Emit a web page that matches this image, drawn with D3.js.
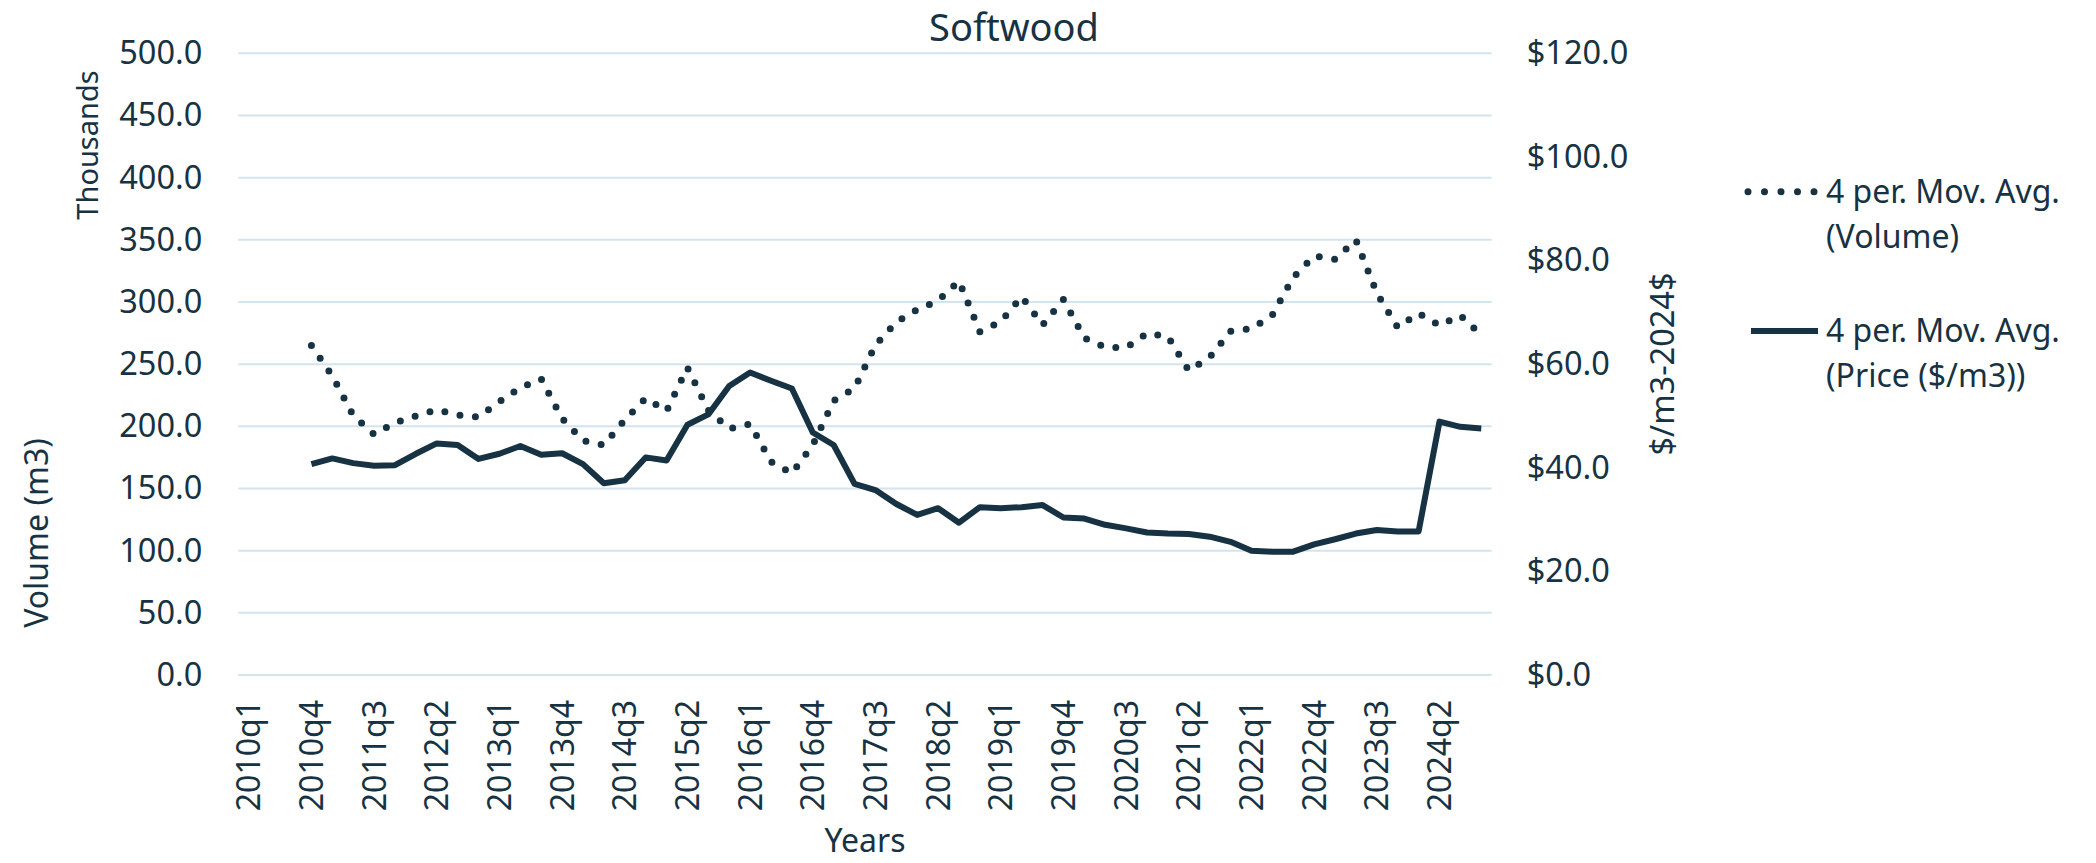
<!DOCTYPE html>
<html><head><meta charset="utf-8">
<script src="https://cdn.jsdelivr.net/npm/d3@7/dist/d3.min.js"></script>
<style>
body{margin:0;background:#fff}
svg text{font-family:"Noto Sans",sans-serif;fill:#173242}
</style>
</head><body>
<svg id="chart" width="2096" height="863"></svg>
<script>
const categories = [
 "2010q1","2010q2","2010q3","2010q4","2011q1","2011q2","2011q3","2011q4",
 "2012q1","2012q2","2012q3","2012q4","2013q1","2013q2","2013q3","2013q4",
 "2014q1","2014q2","2014q3","2014q4","2015q1","2015q2","2015q3","2015q4",
 "2016q1","2016q2","2016q3","2016q4","2017q1","2017q2","2017q3","2017q4",
 "2018q1","2018q2","2018q3","2018q4","2019q1","2019q2","2019q3","2019q4",
 "2020q1","2020q2","2020q3","2020q4","2021q1","2021q2","2021q3","2021q4",
 "2022q1","2022q2","2022q3","2022q4","2023q1","2023q2","2023q3","2023q4",
 "2024q1","2024q2","2024q3","2024q4"];

// 4 per. Mov. Avg. (Volume), thousands of m3
const volume = [null,null,null,
 265.1,240.5,208.8,193.5,202.9,208.3,213.4,209.1,207.5,219.8,231.1,238.1,
 206.4,188.5,185.0,205.1,222.5,212.3,247.2,212.8,198.1,201.9,171.6,162.2,
 185.0,220.6,230.5,265.4,283.9,293.8,301.1,316.9,276.1,284.2,304.3,281.5,
 302.1,271.0,263.5,263.3,274.8,272.1,244.8,255.5,276.4,278.5,289.5,319.8,
 337.0,334.3,349.8,307.2,279.6,290.9,281.2,289.3,273.4];

// 4 per. Mov. Avg. (Price ($/m3))
const price = [null,null,null,
 40.7,41.8,40.9,40.4,40.5,42.7,44.7,44.4,41.7,42.7,44.2,42.5,
 42.8,40.7,37.0,37.6,42.0,41.4,48.3,50.3,55.8,58.4,56.8,55.3,
 46.8,44.4,36.9,35.7,33.0,30.9,32.2,29.4,32.4,32.2,32.4,32.8,
 30.4,30.2,29.0,28.3,27.5,27.3,27.2,26.7,25.7,24.0,23.8,23.8,
 25.2,26.2,27.3,28.0,27.7,27.7,48.9,47.9,47.6];

const leftTicks = [0,50,100,150,200,250,300,350,400,450,500];
const rightTicks = [0,20,40,60,80,100,120];
const seriesNames = [["4 per. Mov. Avg.","(Volume)"],["4 per. Mov. Avg.","(Price ($/m3))"]];

const color = "#173242";
const gridColor = "#d4e4ee";
const L = 238.3, R = 1491.7, T = 53.3, B = 675;

const svg = d3.select("#chart");

const x = d3.scaleBand().domain(categories).range([L, R]).padding(0);
const xc = c => x(c) + x.bandwidth()/2;
const yL = d3.scaleLinear().domain([0,500]).range([B, T]);
const yR = d3.scaleLinear().domain([0,120]).range([B, T]);

// gridlines
svg.append("g").selectAll("line").data(leftTicks).join("line")
  .attr("x1", L).attr("x2", R)
  .attr("y1", d => yL(d)).attr("y2", d => yL(d))
  .attr("stroke", gridColor).attr("stroke-width", 2);

// left axis
const gL = svg.append("g").attr("transform", `translate(${L},0)`)
  .call(d3.axisLeft(yL).tickValues(leftTicks).tickFormat(d => d.toFixed(1)).tickSize(0).tickPadding(36));
gL.select(".domain").remove();
gL.selectAll("text").style("font-size","32.5px").style("font-family","'Noto Sans',sans-serif").attr("fill",color);

// right axis
const gR = svg.append("g").attr("transform", `translate(${R},0)`)
  .call(d3.axisRight(yR).tickValues(rightTicks).tickFormat(d => "$" + d.toFixed(1)).tickSize(0).tickPadding(35));
gR.select(".domain").remove();
gR.selectAll("text").style("font-size","32.5px").style("font-family","'Noto Sans',sans-serif").attr("fill",color);

// bottom axis
const gB = svg.append("g").attr("transform", `translate(0,${B})`)
  .call(d3.axisBottom(x).tickValues(categories.filter((c,i) => i % 3 === 0)).tickSize(0));
gB.select(".domain").remove();
gB.selectAll("text")
  .attr("transform","rotate(-90)")
  .attr("x",-25).attr("y",0).attr("dy","0.36em")
  .attr("text-anchor","end")
  .style("font-size","32px").style("font-family","'Noto Sans',sans-serif").attr("fill",color);

// volume dotted line
const lineV = d3.line().defined(d => d.v != null).x(d => xc(d.c)).y(d => yL(d.v));
svg.append("path")
  .datum(categories.map((c,i) => ({c, v: volume[i]})))
  .attr("d", lineV).attr("fill","none").attr("stroke",color)
  .attr("stroke-width",7).attr("stroke-linecap","round").attr("stroke-dasharray","0 15.5");

// price solid line
const lineP = d3.line().defined(d => d.v != null).x(d => xc(d.c)).y(d => yR(d.v));
svg.append("path")
  .datum(categories.map((c,i) => ({c, v: price[i]})))
  .attr("d", lineP).attr("fill","none").attr("stroke",color)
  .attr("stroke-width",6).attr("stroke-linejoin","round");

// title
svg.append("text").attr("x",1014).attr("y",41).attr("text-anchor","middle")
  .style("font-size","38px").text("Softwood");

// axis titles
svg.append("text").attr("transform","translate(88,145) rotate(-90)")
  .attr("text-anchor","middle").attr("dy","0.35em").style("font-size","29px").text("Thousands");
svg.append("text").attr("transform","translate(37,533) rotate(-90)")
  .attr("text-anchor","middle").attr("dy","0.35em").style("font-size","32px").text("Volume (m3)");
svg.append("text").attr("transform","translate(1663,364) rotate(-90)")
  .attr("text-anchor","middle").attr("dy","0.35em").style("font-size","32.5px").text("$/m3-2024$");
svg.append("text").attr("x",(L+R)/2).attr("y",841).attr("text-anchor","middle")
  .attr("dy","0.35em").style("font-size","32px").text("Years");

// legend
const leg = svg.append("g");
leg.append("line").attr("x1",1748).attr("x2",1816).attr("y1",191.7).attr("y2",191.7)
  .attr("stroke",color).attr("stroke-width",7).attr("stroke-linecap","round").attr("stroke-dasharray","0 16.5");
leg.append("line").attr("x1",1751).attr("x2",1818).attr("y1",331).attr("y2",331)
  .attr("stroke",color).attr("stroke-width",6);
[[202.7],[342.3]].forEach((b,k) => {
  const t = leg.append("text").attr("x",1826).attr("y",b[0]).style("font-size","32px");
  t.append("tspan").attr("x",1826).text(seriesNames[k][0]);
  t.append("tspan").attr("x",1826).attr("dy",45).text(seriesNames[k][1]);
});
</script>
</body></html>
